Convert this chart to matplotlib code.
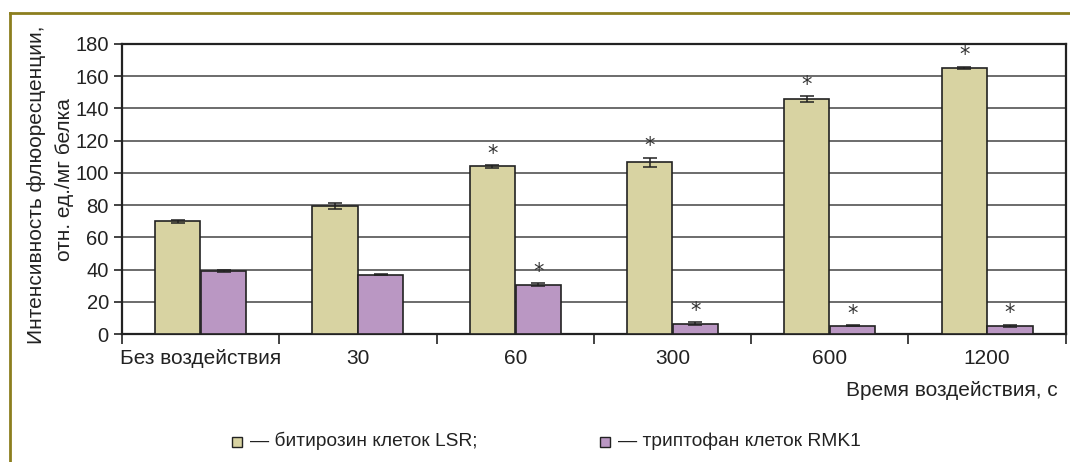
import matplotlib
matplotlib.use("Agg")
import matplotlib.pyplot as plt
from matplotlib.lines import Line2D
from matplotlib.patches import Rectangle
import numpy as np

plt.rcParams['font.family'] = ['Liberation Sans', 'DejaVu Sans']

categories = ["Без воздействия", "30", "60", "300", "600", "1200"]
dityrosine = [70, 79.5, 104, 106.5, 145.7, 165]
dityrosine_err = [1, 2, 0.7, 3, 2, 0.8]
tryptophan = [39.3, 36.8, 30.6, 6.3, 5.2, 5.0]
tryptophan_err = [0.6, 0.3, 0.9, 0.9, 0.3, 0.9]
dityrosine_sig = [False, False, True, True, True, True]
tryptophan_sig = [False, False, True, True, True, True]

series_labels = ["— битирозин клеток LSR;", "— триптофан клеток RMK1"]
ylabel_lines = ["Интенсивность флюоресценции,", "отн. ед./мг белка"]
xlabel = "Время воздействия, с"

c_beige = "#D8D3A2"
c_purple = "#BA97C3"
dark = "#222222"

fig = plt.figure(figsize=(10.7, 4.62), dpi=100)
ax = fig.add_axes([0.114, 0.277, 0.882, 0.628])

x = np.arange(len(categories))
w = 0.287
off = 0.146
ekw = dict(ecolor=dark, elinewidth=1.1, capsize=5, capthick=1.1)
ax.bar(x - off, dityrosine, w, color=c_beige, edgecolor=dark, linewidth=1.2,
       yerr=dityrosine_err, error_kw=ekw, zorder=3)
ax.bar(x + off, tryptophan, w, color=c_purple, edgecolor=dark, linewidth=1.2,
       yerr=tryptophan_err, error_kw=ekw, zorder=3)

for i in range(len(categories)):
    if dityrosine_sig[i]:
        ax.text(x[i] - off, dityrosine[i] + dityrosine_err[i] + 0.8, "*", ha="center",
                va="bottom", fontsize=15, color="#333333", family="DejaVu Sans")
    if tryptophan_sig[i]:
        ax.text(x[i] + off, tryptophan[i] + tryptophan_err[i] + 0.8, "*", ha="center",
                va="bottom", fontsize=15, color="#333333", family="DejaVu Sans")

ax.set_ylim(0, 180)
ax.set_xlim(-0.5, len(categories) - 0.5)
ax.set_yticks(np.arange(0, 181, 20))
ax.yaxis.grid(True, color="#6b6b6b", linewidth=1.4, zorder=0)
ax.set_axisbelow(True)
ax.set_xticks(x)
ax.set_xticklabels(categories, fontsize=15, color=dark)
ax.set_xticks(np.arange(-0.5, len(categories), 1.0), minor=True)
ax.tick_params(axis="x", which="major", length=0, pad=11)
ax.tick_params(axis="x", which="minor", length=7, width=1.2, direction="out", color=dark)
ax.tick_params(axis="y", labelsize=14.5, length=6, width=1.2, color=dark, labelcolor=dark)
for s in ax.spines.values():
    s.set_color(dark)
    s.set_linewidth(1.6)

fig.text(37 / 1070, 1 - 185 / 462, ylabel_lines[0], rotation=90, ha="center", va="center",
         fontsize=15, color=dark)
fig.text(64 / 1070, 1 - 180 / 462, ylabel_lines[1], rotation=90, ha="center", va="center",
         fontsize=15, color=dark)
fig.text(1058 / 1070, 1 - 390 / 462, xlabel, ha="right", va="center", fontsize=15, color=dark)

# legend
legend_x = [237 / 1070, 605 / 1070]
colors = [c_beige, c_purple]
for lx, col, lab in zip(legend_x, colors, series_labels):
    fig.patches.append(Rectangle((lx - 0.005, 1 - 447 / 462), 0.0095, 0.022,
                                 transform=fig.transFigure,
                                 facecolor=col, edgecolor=dark, linewidth=1.0))
    fig.text(lx + 0.012, 1 - 441 / 462, lab, ha="left", va="center", fontsize=13.8, color=dark)

# olive frame
olive = "#8C7E1E"
fig.add_artist(Line2D([10 / 1070, 1.0], [1 - 13 / 462, 1 - 13 / 462], transform=fig.transFigure,
                      color=olive, linewidth=2))
fig.add_artist(Line2D([10 / 1070, 10 / 1070], [0, 1 - 13 / 462], transform=fig.transFigure,
                      color=olive, linewidth=2))

fig.savefig("out.png", dpi=100)
